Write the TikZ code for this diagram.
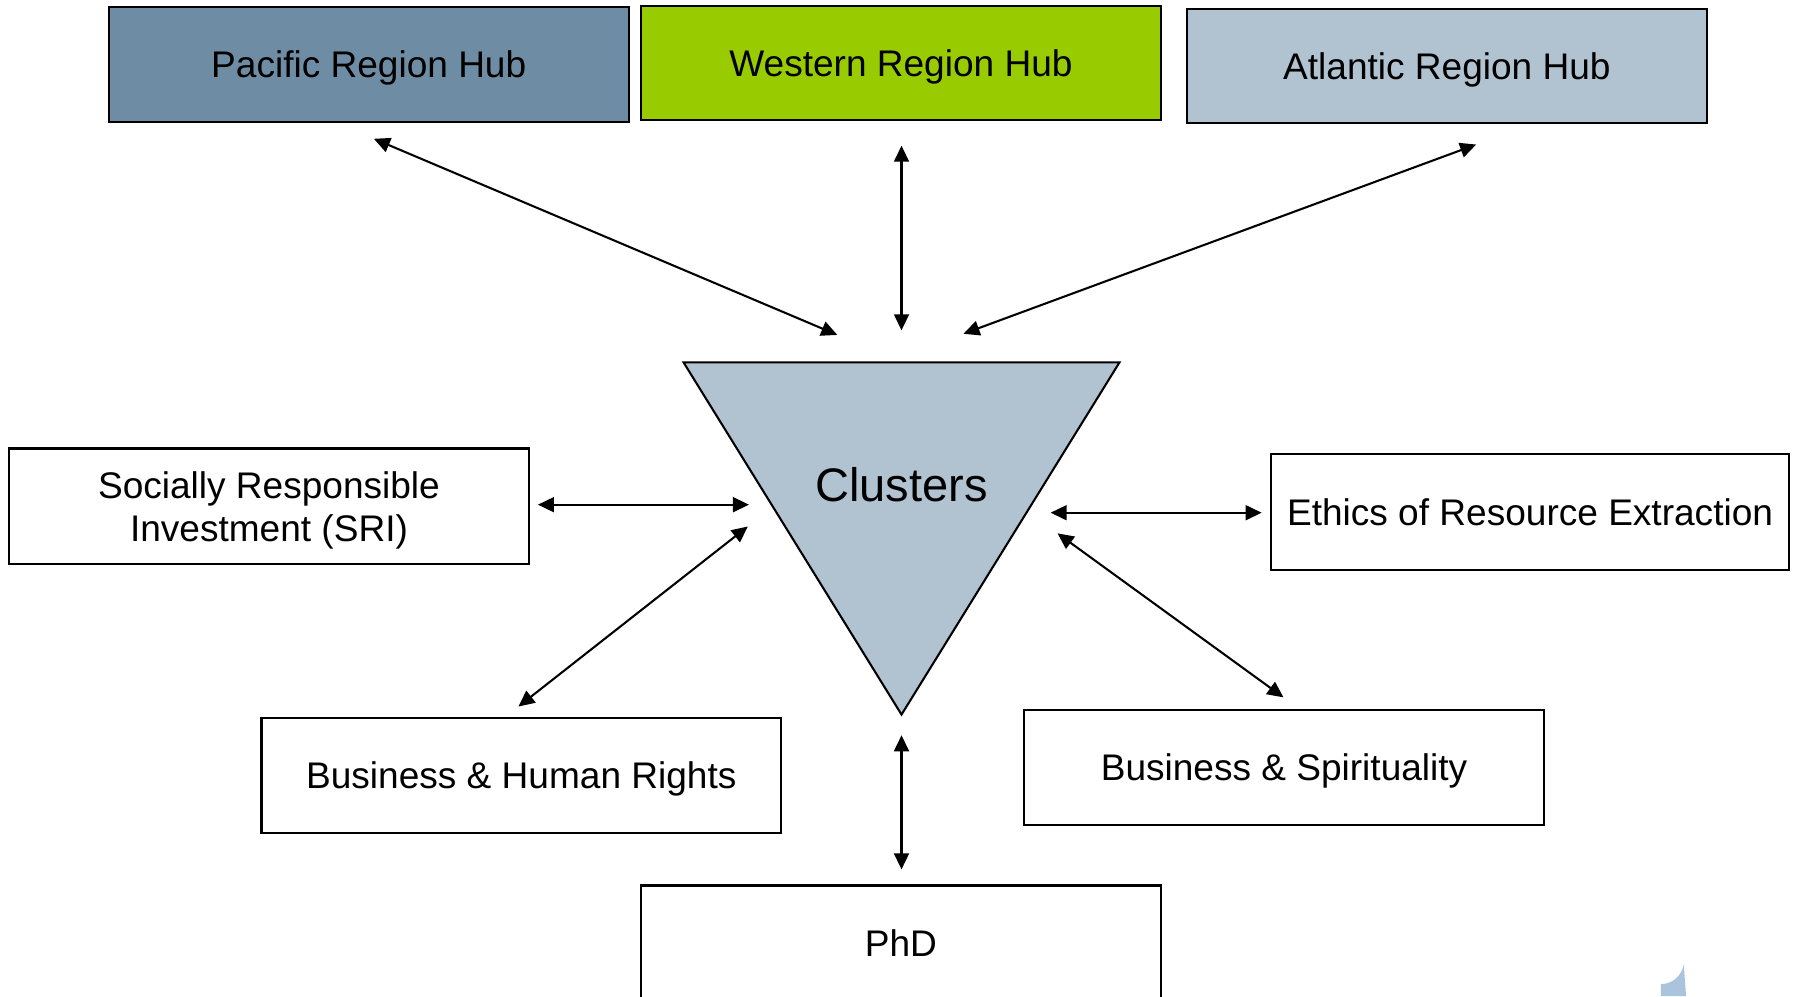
\documentclass[tikz,border=0pt]{standalone}
\usepackage{fontspec}
\setmainfont{Liberation Sans}
\usetikzlibrary{arrows.meta}
\definecolor{pacific}{HTML}{6E8CA3}
\definecolor{western}{HTML}{99CC00}
\definecolor{atlantic}{HTML}{B1C2D0}
\definecolor{logoblue}{HTML}{A9C4DC}
\tikzset{
  hubbox/.style={draw=black, line width=1.8pt, minimum width=453pt, minimum height=100pt,
    inner sep=0pt, outer sep=0pt, font=\fontsize{32.3}{39}\selectfont, align=center, text depth=0pt},
  plainbox/.style={hubbox, fill=white},
  link/.style={line width=1.8pt, {Triangle[length=14pt,width=13pt]}-{Triangle[length=14pt,width=13pt]}},
}
\begin{document}
\begin{tikzpicture}[x=1pt,y=-1pt]
\useasboundingbox (0,0) rectangle (1565,868.4);
\begin{scope}
\clip (0,0) rectangle (1565,868.4);
% hubs
\node[hubbox, fill=pacific] (pac) at (321.5,56) {Pacific Region Hub};
\node[hubbox, fill=western] (wes) at (785.5,55) {Western Region Hub};
\node[hubbox, fill=atlantic, minimum height=99pt] (atl) at (1261.5,57.5) {Atlantic Region Hub};
% triangle
\coordinate (tl) at (596,316);
\coordinate (tr) at (976,316);
\coordinate (tb) at (786,623);
\draw[line width=1.8pt, fill=atlantic, line join=miter] (tl) -- (tr) -- (tb) -- cycle;
\node[font=\fontsize{41}{49}\selectfont] (clu) at (786,423) {Clusters};
% boxes
\node[plainbox, minimum height=101pt] (sri) at (234.5,441.5) {Socially Responsible\\[-1pt]Investment (SRI)};
\node[plainbox, minimum width=452pt, minimum height=101pt] (eth) at (1334,446.5) {Ethics of Resource Extraction};
\node[plainbox] (bhr) at (454.5,676) {Business \& Human Rights};
\node[plainbox] (bsp) at (1119.5,669) {Business \& Spirituality};
\node[plainbox] (phd) at (785.5,822) {PhD};
% logo fragment
\fill[logoblue] (1448,868.4) -- (1448,858) .. controls (1458,858) and (1466,851) .. (1468,841) -- (1470,868.4) -- cycle;
\end{scope}
% connector end points
\coordinate (pacA) at (326,121);  \coordinate (pacB) at (730,292);
\coordinate (wesA) at (786,127);  \coordinate (wesB) at (786,288);
\coordinate (atlA) at (1287,126); \coordinate (atlB) at (840,291);
\coordinate (sriA) at (469,440);  \coordinate (sriB) at (653,440);
\coordinate (bhrA) at (452,616);  \coordinate (bhrB) at (652,459);
\coordinate (ethA) at (1100,447); \coordinate (ethB) at (916,447);
\coordinate (bspA) at (1119,608); \coordinate (bspB) at (922,465);
\coordinate (phdA) at (786,758);  \coordinate (phdB) at (786,641);
% connectors
\draw[link] (pacA) -- (pacB);
\draw[link] (wesA) -- (wesB);
\draw[link] (atlA) -- (atlB);
\draw[link] (sriA) -- (sriB);
\draw[link] (bhrA) -- (bhrB);
\draw[link] (ethA) -- (ethB);
\draw[link] (bspA) -- (bspB);
\draw[link] (phdA) -- (phdB);
\end{tikzpicture}
\end{document}
